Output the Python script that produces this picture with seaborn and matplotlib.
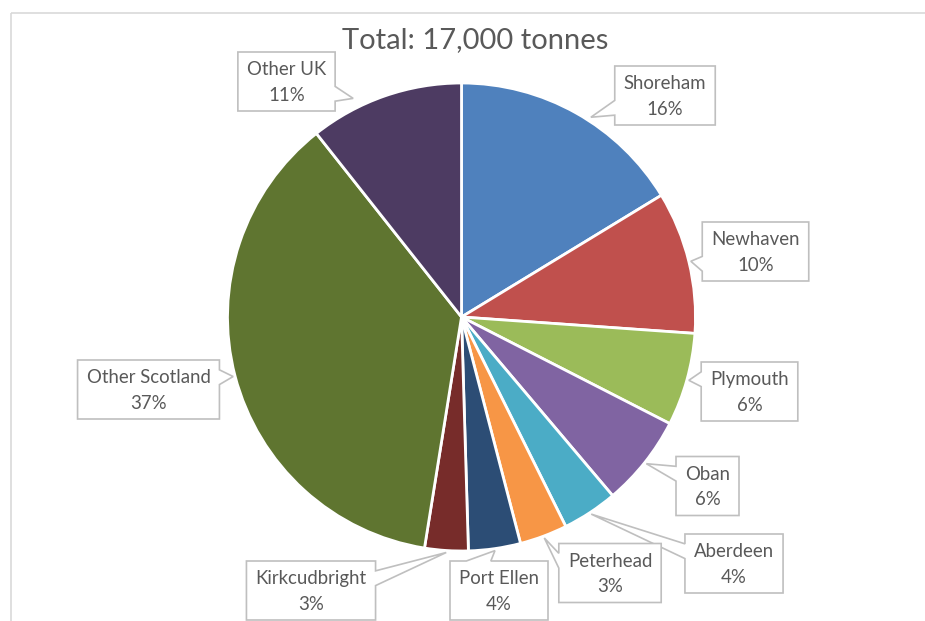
import numpy as np
import matplotlib
matplotlib.use("Agg")
import matplotlib.pyplot as plt
from matplotlib.patches import Polygon, Rectangle
import seaborn as sns

# Landings by port (tonnes)
ports = ["Shoreham", "Newhaven", "Plymouth", "Oban", "Aberdeen", "Peterhead",
         "Port Ellen", "Kirkcudbright", "Other Scotland", "Other UK"]
tonnes = [2770, 1670, 1090, 1070, 650, 560, 610, 510, 6260, 1810]
colours = ["#4F81BD", "#C0504D", "#9BBB59", "#8064A2", "#4BACC6", "#F79646",
           "#2C4D75", "#772C2A", "#5F7530", "#4D3B62"]

# Callout box centres (canvas pixels, y downward)
box_centres = {
    "Shoreham": (665, 95.5),
    "Newhaven": (755.5, 251.5),
    "Plymouth": (749.5, 391.5),
    "Oban": (707.5, 486),
    "Aberdeen": (734, 563.5),
    "Peterhead": (610, 573),
    "Port Ellen": (499, 590.5),
    "Kirkcudbright": (311, 590.5),
    "Other Scotland": (148.5, 389.5),
    "Other UK": (286.5, 81.5),
}
# small adjustments of where the pointer meets the pie (degrees, radius px)
tip_nudge = {"Shoreham": (3.6, 238), "Other UK": (-7.2, 244)}

W, H = 925, 621
CX, CY, R = 461.5, 317, 234
TEXT = "#595959"
EDGE = "#bfbfbf"

sns.set_theme(style="white")
plt.rcParams["font.family"] = ["Lato", "DejaVu Sans"]

fig = plt.figure(figsize=(W / 100, H / 100), dpi=100)
ax = fig.add_axes([0, 0, 1, 1])

palette = sns.color_palette(colours)
ax.pie(tonnes, colors=palette, startangle=-90, counterclock=True,
       center=(CX, CY), radius=R,
       wedgeprops=dict(edgecolor="white", linewidth=2))
ax.set_xlim(0, W)
ax.set_ylim(H, 0)
ax.set_aspect("auto")
ax.axis("off")

# chart-area frame
ax.add_patch(Rectangle((11, 13), W, H, fc="none", ec="#d9d9d9", lw=1.2, zorder=1))

total = sum(tonnes)
ax.text(475, 48, f"Total: {total:,} tonnes", ha="center", va="baseline",
        fontsize=21, color=TEXT, zorder=5)

renderer = fig.canvas.get_renderer()


def callout(text, cx, cy, tip, h=59, pad=9):
    t = ax.text(cx, cy + 1, text, ha="center", va="center", fontsize=13.4,
                color=TEXT, linespacing=1.6, zorder=5)
    bb = t.get_window_extent(renderer)
    w = bb.width + 2 * pad
    x0, x1 = cx - w / 2, cx + w / 2
    y0, y1 = cy - h / 2, cy + h / 2
    tx, ty = tip
    dx, dy = tx - cx, ty - cy
    if abs(dx) / w >= abs(dy) / h:
        fa, fb = (7 / 12, 10 / 12) if ty > cy else (2 / 12, 5 / 12)
        ya, yb = y0 + fa * h, y0 + fb * h
        if dx < 0:
            pts = [(x0, y0), (x1, y0), (x1, y1), (x0, y1), (x0, yb), (tx, ty), (x0, ya)]
        else:
            pts = [(x0, y0), (x1, y0), (x1, ya), (tx, ty), (x1, yb), (x1, y1), (x0, y1)]
    else:
        fa, fb = (7 / 12, 10 / 12) if tx > cx else (2 / 12, 5 / 12)
        xa, xb = x0 + fa * w, x0 + fb * w
        if dy < 0:
            pts = [(x0, y0), (xa, y0), (tx, ty), (xb, y0), (x1, y0), (x1, y1), (x0, y1)]
        else:
            pts = [(x0, y0), (x1, y0), (x1, y1), (xb, y1), (tx, ty), (xa, y1), (x0, y1)]
    ax.add_patch(Polygon(pts, closed=True, fc="white", ec=EDGE, lw=1.2,
                         joinstyle="miter", zorder=4))


cum = np.cumsum([0] + tonnes)
for i, name in enumerate(ports):
    share = tonnes[i] / total
    mid = (cum[i] + cum[i + 1]) / 2 / total * 360.0
    nud, rad = tip_nudge.get(name, (0.0, 236))
    ang = np.deg2rad(mid + nud)
    tip = (CX + rad * np.sin(ang), CY - rad * np.cos(ang))
    cx, cy = box_centres[name]
    callout(f"{name}\n{share * 100:.0f}%", cx, cy, tip)

fig.savefig("out.png", dpi=100)
